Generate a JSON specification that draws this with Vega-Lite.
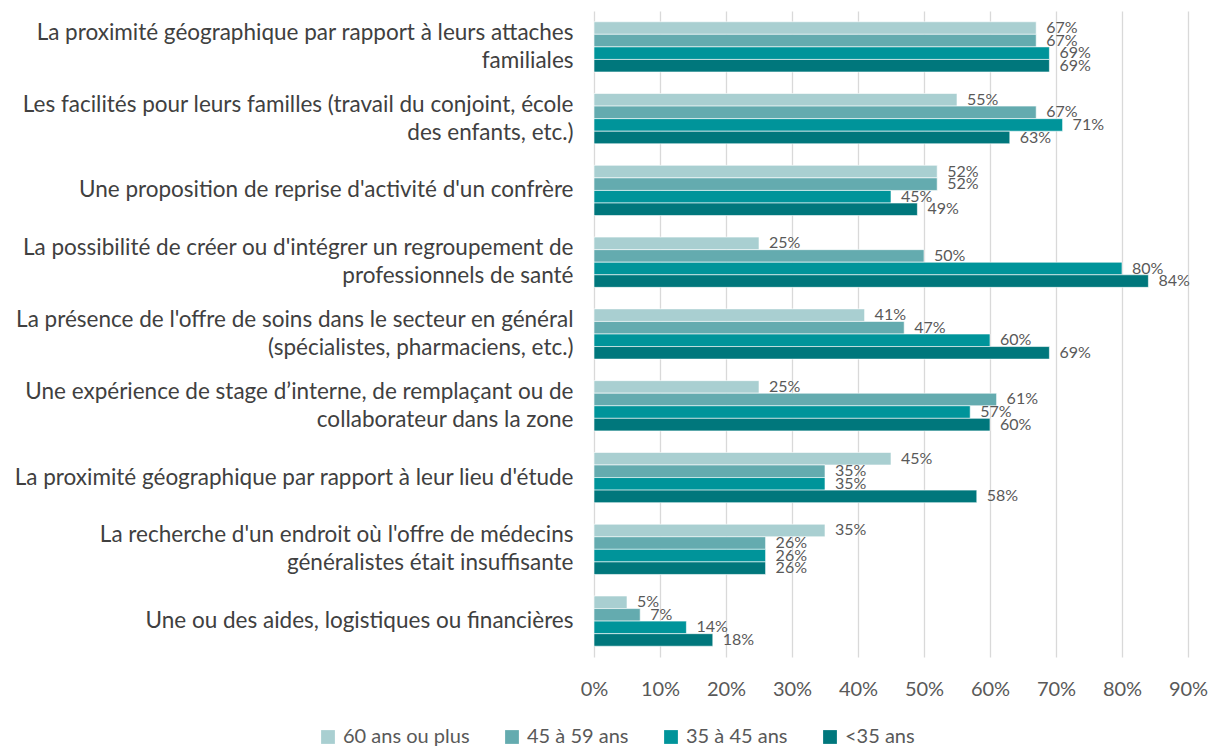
{
  "$schema": "https://vega.github.io/schema/vega-lite/v6.json",
  "width": 594,
  "height": 646,
  "autosize": {"type": "none"},
  "padding": {"left": 594, "top": 11, "right": 36, "bottom": 92},
  "background": "white",
  "data": {
    "values": [
      {"cat": "La proximité géographique par rapport à leurs attaches|familiales", "i": 1, "grp": "60 ans ou plus", "g": 1, "v": 0.67},
      {"cat": "La proximité géographique par rapport à leurs attaches|familiales", "i": 1, "grp": "45 à 59 ans", "g": 2, "v": 0.67},
      {"cat": "La proximité géographique par rapport à leurs attaches|familiales", "i": 1, "grp": "35 à 45 ans", "g": 3, "v": 0.69},
      {"cat": "La proximité géographique par rapport à leurs attaches|familiales", "i": 1, "grp": "<35 ans", "g": 4, "v": 0.69},
      {"cat": "Les facilités pour leurs familles (travail du conjoint, école|des enfants, etc.)", "i": 2, "grp": "60 ans ou plus", "g": 1, "v": 0.55},
      {"cat": "Les facilités pour leurs familles (travail du conjoint, école|des enfants, etc.)", "i": 2, "grp": "45 à 59 ans", "g": 2, "v": 0.67},
      {"cat": "Les facilités pour leurs familles (travail du conjoint, école|des enfants, etc.)", "i": 2, "grp": "35 à 45 ans", "g": 3, "v": 0.71},
      {"cat": "Les facilités pour leurs familles (travail du conjoint, école|des enfants, etc.)", "i": 2, "grp": "<35 ans", "g": 4, "v": 0.63},
      {"cat": "Une proposition de reprise d'activité d'un confrère", "i": 3, "grp": "60 ans ou plus", "g": 1, "v": 0.52},
      {"cat": "Une proposition de reprise d'activité d'un confrère", "i": 3, "grp": "45 à 59 ans", "g": 2, "v": 0.52},
      {"cat": "Une proposition de reprise d'activité d'un confrère", "i": 3, "grp": "35 à 45 ans", "g": 3, "v": 0.45},
      {"cat": "Une proposition de reprise d'activité d'un confrère", "i": 3, "grp": "<35 ans", "g": 4, "v": 0.49},
      {"cat": "La possibilité de créer ou d'intégrer un regroupement de|professionnels de santé", "i": 4, "grp": "60 ans ou plus", "g": 1, "v": 0.25},
      {"cat": "La possibilité de créer ou d'intégrer un regroupement de|professionnels de santé", "i": 4, "grp": "45 à 59 ans", "g": 2, "v": 0.50},
      {"cat": "La possibilité de créer ou d'intégrer un regroupement de|professionnels de santé", "i": 4, "grp": "35 à 45 ans", "g": 3, "v": 0.80},
      {"cat": "La possibilité de créer ou d'intégrer un regroupement de|professionnels de santé", "i": 4, "grp": "<35 ans", "g": 4, "v": 0.84},
      {"cat": "La présence de l'offre de soins dans le secteur en général|(spécialistes, pharmaciens, etc.)", "i": 5, "grp": "60 ans ou plus", "g": 1, "v": 0.41},
      {"cat": "La présence de l'offre de soins dans le secteur en général|(spécialistes, pharmaciens, etc.)", "i": 5, "grp": "45 à 59 ans", "g": 2, "v": 0.47},
      {"cat": "La présence de l'offre de soins dans le secteur en général|(spécialistes, pharmaciens, etc.)", "i": 5, "grp": "35 à 45 ans", "g": 3, "v": 0.60},
      {"cat": "La présence de l'offre de soins dans le secteur en général|(spécialistes, pharmaciens, etc.)", "i": 5, "grp": "<35 ans", "g": 4, "v": 0.69},
      {"cat": "Une expérience de stage d’interne, de remplaçant ou de|collaborateur dans la zone", "i": 6, "grp": "60 ans ou plus", "g": 1, "v": 0.25},
      {"cat": "Une expérience de stage d’interne, de remplaçant ou de|collaborateur dans la zone", "i": 6, "grp": "45 à 59 ans", "g": 2, "v": 0.61},
      {"cat": "Une expérience de stage d’interne, de remplaçant ou de|collaborateur dans la zone", "i": 6, "grp": "35 à 45 ans", "g": 3, "v": 0.57},
      {"cat": "Une expérience de stage d’interne, de remplaçant ou de|collaborateur dans la zone", "i": 6, "grp": "<35 ans", "g": 4, "v": 0.60},
      {"cat": "La proximité géographique par rapport à leur lieu d'étude", "i": 7, "grp": "60 ans ou plus", "g": 1, "v": 0.45},
      {"cat": "La proximité géographique par rapport à leur lieu d'étude", "i": 7, "grp": "45 à 59 ans", "g": 2, "v": 0.35},
      {"cat": "La proximité géographique par rapport à leur lieu d'étude", "i": 7, "grp": "35 à 45 ans", "g": 3, "v": 0.35},
      {"cat": "La proximité géographique par rapport à leur lieu d'étude", "i": 7, "grp": "<35 ans", "g": 4, "v": 0.58},
      {"cat": "La recherche d'un endroit où l'offre de médecins|généralistes était insuffisante", "i": 8, "grp": "60 ans ou plus", "g": 1, "v": 0.35},
      {"cat": "La recherche d'un endroit où l'offre de médecins|généralistes était insuffisante", "i": 8, "grp": "45 à 59 ans", "g": 2, "v": 0.26},
      {"cat": "La recherche d'un endroit où l'offre de médecins|généralistes était insuffisante", "i": 8, "grp": "35 à 45 ans", "g": 3, "v": 0.26},
      {"cat": "La recherche d'un endroit où l'offre de médecins|généralistes était insuffisante", "i": 8, "grp": "<35 ans", "g": 4, "v": 0.26},
      {"cat": "Une ou des aides, logistiques ou financières", "i": 9, "grp": "60 ans ou plus", "g": 1, "v": 0.05},
      {"cat": "Une ou des aides, logistiques ou financières", "i": 9, "grp": "45 à 59 ans", "g": 2, "v": 0.07},
      {"cat": "Une ou des aides, logistiques ou financières", "i": 9, "grp": "35 à 45 ans", "g": 3, "v": 0.14},
      {"cat": "Une ou des aides, logistiques ou financières", "i": 9, "grp": "<35 ans", "g": 4, "v": 0.18}
    ]
  },
  "encoding": {
    "y": {
      "field": "cat",
      "type": "nominal",
      "sort": {"field": "i", "op": "min", "order": "ascending"},
      "scale": {"paddingInner": 0.3, "paddingOuter": 0.15},
      "axis": {
        "title": null,
        "domain": false,
        "ticks": false,
        "labelPadding": 21,
        "labelLimit": 640,
        "labelFontSize": 22.5,
        "labelFont": "Lato",
        "labelColor": "#404040",
        "labelLineHeight": 28,
        "labelOffset": {"condition": {"test": "indexof(datum.value, '|') >= 0", "value": -14}, "value": 0},
        "labelExpr": "split(datum.label, '|')"
      }
    },
    "yOffset": {
      "field": "grp",
      "type": "nominal",
      "sort": ["60 ans ou plus", "45 à 59 ans", "35 à 45 ans", "<35 ans"],
      "scale": {"paddingInner": 0, "paddingOuter": 0}
    },
    "x": {
      "field": "v",
      "type": "quantitative",
      "scale": {"domain": [0, 0.9], "nice": false},
      "axis": {
        "title": null,
        "format": ".0%",
        "values": [0, 0.1, 0.2, 0.3, 0.4, 0.5, 0.6, 0.7, 0.8, 0.9],
        "grid": true,
        "gridColor": "#d9d9d9",
        "gridWidth": 1.3,
        "domain": false,
        "ticks": false,
        "labelFlush": false,
        "labelPadding": 22,
        "labelFontSize": 20,
        "labelFont": "Lato",
        "labelColor": "#595959"
      }
    }
  },
  "layer": [
    {
      "mark": {"type": "bar", "stroke": "white", "strokeWidth": 0.6},
      "encoding": {
        "color": {
          "field": "grp",
          "type": "nominal",
          "sort": ["60 ans ou plus", "45 à 59 ans", "35 à 45 ans", "<35 ans"],
          "scale": {
            "domain": ["60 ans ou plus", "45 à 59 ans", "35 à 45 ans", "<35 ans"],
            "range": ["#a9cfd1", "#64abaf", "#00949a", "#00777c"]
          },
          "legend": {
            "title": null,
            "orient": "none",
            "direction": "horizontal",
            "legendX": -276,
            "legendY": 716,
            "symbolType": "square",
            "symbolSize": 190,
            "symbolStrokeWidth": 0,
            "labelFontSize": 20,
            "labelFont": "Lato",
            "labelColor": "#595959",
            "columnPadding": 32,
            "labelOffset": 5
          }
        }
      }
    },
    {
      "mark": {"type": "text", "align": "left", "baseline": "middle", "dx": 10, "fontSize": 16, "font": "Lato", "color": "#595959"},
      "encoding": {
        "text": {"field": "v", "type": "quantitative", "format": ".0%"}
      }
    }
  ],
  "config": {"view": {"stroke": null}}
}
